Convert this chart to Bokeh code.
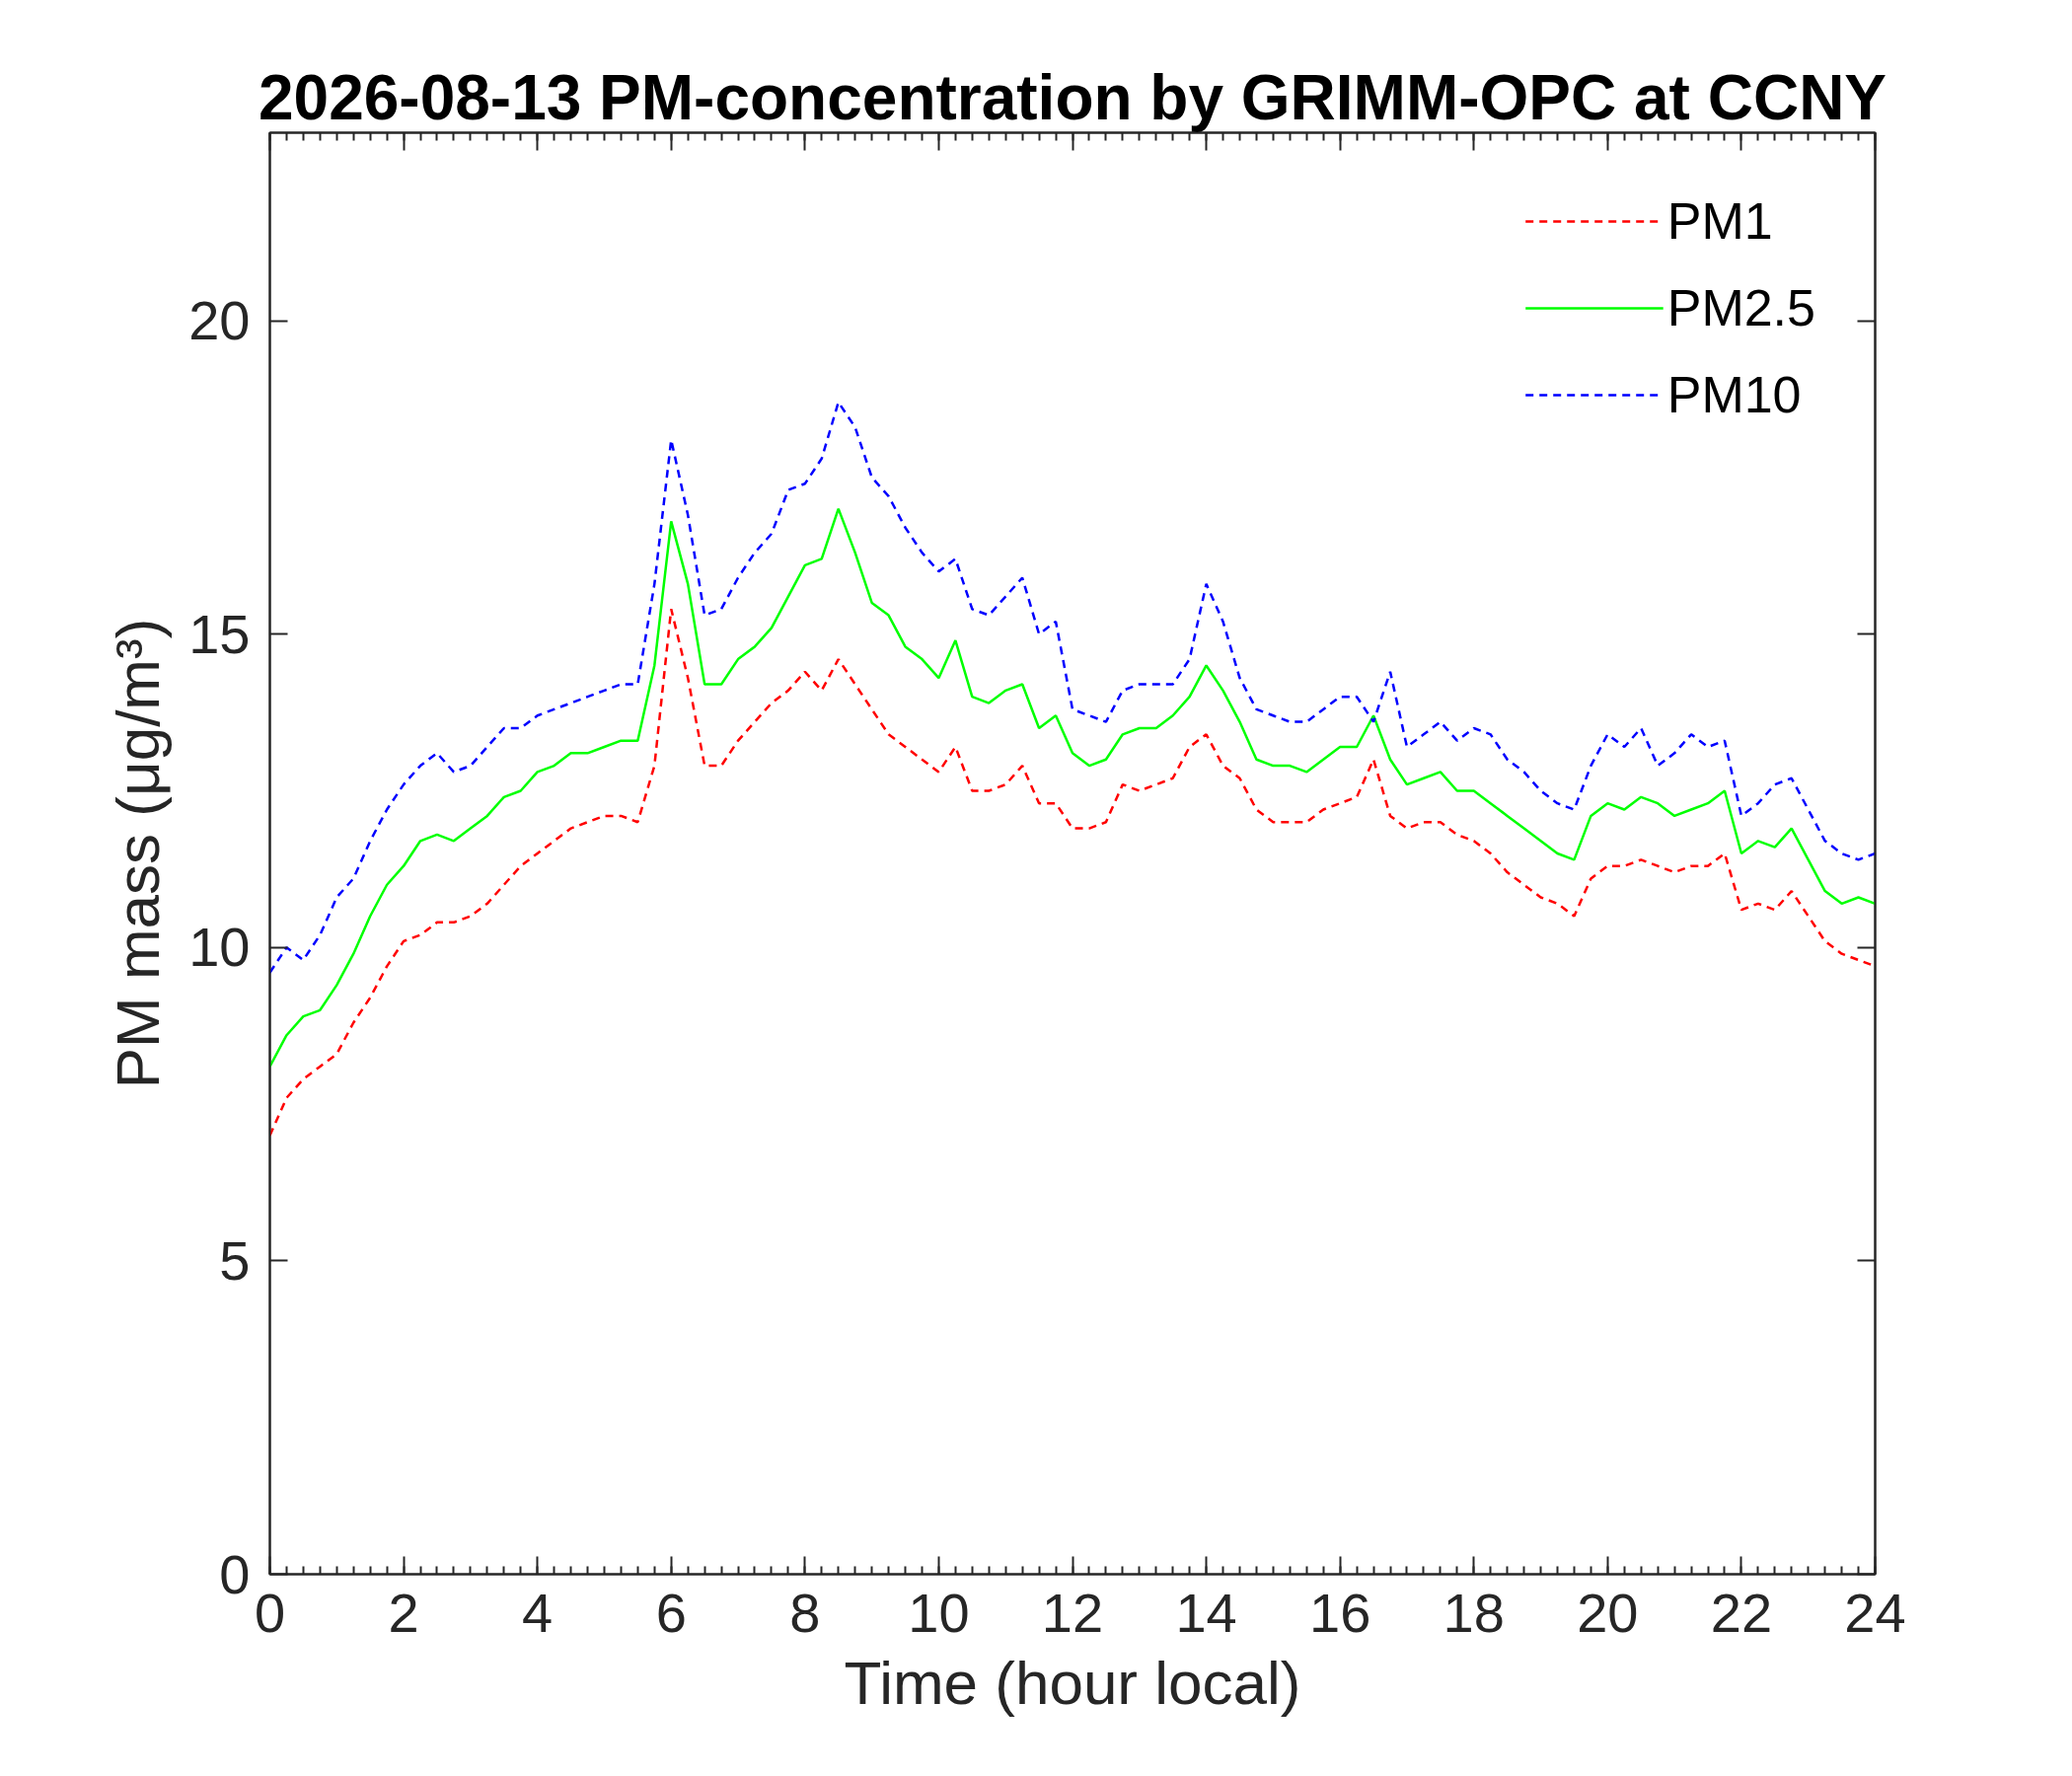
from bokeh.plotting import figure
from bokeh.models import LinearAxis, Range1d, FixedTicker, Legend, LegendItem
from bokeh.embed import file_html
from bokeh.resources import INLINE

hours = [i * 0.25 for i in range(97)]
pm1 = [7.0,7.6,7.9,8.1,8.3,8.8,9.2,9.7,10.1,10.2,10.4,10.4,10.5,10.7,11.0,11.3,11.5,11.7,11.9,12.0,12.1,12.1,12.0,12.9,
       15.4,14.3,12.9,12.9,13.3,13.6,13.9,14.1,14.4,14.1,14.6,14.2,13.8,13.4,13.2,13.0,12.8,13.2,12.5,12.5,12.6,12.9,12.3,12.3,
       11.9,11.9,12.0,12.6,12.5,12.6,12.7,13.2,13.4,12.9,12.7,12.2,12.0,12.0,12.0,12.2,12.3,12.4,13.0,12.1,11.9,12.0,12.0,11.8,
       11.7,11.5,11.2,11.0,10.8,10.7,10.5,11.1,11.3,11.3,11.4,11.3,11.2,11.3,11.3,11.5,10.6,10.7,10.6,10.9,10.5,10.1,9.9,9.8,9.7]
pm25 = [8.1,8.6,8.9,9.0,9.4,9.9,10.5,11.0,11.3,11.7,11.8,11.7,11.9,12.1,12.4,12.5,12.8,12.9,13.1,13.1,13.2,13.3,13.3,14.5,
        16.8,15.8,14.2,14.2,14.6,14.8,15.1,15.6,16.1,16.2,17.0,16.3,15.5,15.3,14.8,14.6,14.3,14.9,14.0,13.9,14.1,14.2,13.5,13.7,
        13.1,12.9,13.0,13.4,13.5,13.5,13.7,14.0,14.5,14.1,13.6,13.0,12.9,12.9,12.8,13.0,13.2,13.2,13.7,13.0,12.6,12.7,12.8,12.5,
        12.5,12.3,12.1,11.9,11.7,11.5,11.4,12.1,12.3,12.2,12.4,12.3,12.1,12.2,12.3,12.5,11.5,11.7,11.6,11.9,11.4,10.9,10.7,10.8,10.7]
pm10 = [9.6,10.0,9.8,10.2,10.8,11.1,11.7,12.2,12.6,12.9,13.1,12.8,12.9,13.2,13.5,13.5,13.7,13.8,13.9,14.0,14.1,14.2,14.2,15.8,
        18.1,16.9,15.3,15.4,15.9,16.3,16.6,17.3,17.4,17.8,18.7,18.3,17.5,17.2,16.7,16.3,16.0,16.2,15.4,15.3,15.6,15.9,15.0,15.2,
        13.8,13.7,13.6,14.1,14.2,14.2,14.2,14.6,15.8,15.2,14.3,13.8,13.7,13.6,13.6,13.8,14.0,14.0,13.6,14.4,13.2,13.4,13.6,13.3,
        13.5,13.4,13.0,12.8,12.5,12.3,12.2,12.9,13.4,13.2,13.5,12.9,13.1,13.4,13.2,13.3,12.1,12.3,12.6,12.7,12.2,11.7,11.5,11.4,11.5]
x_ticks = list(range(0, 25, 2))
y_ticks = [0, 5, 10, 15, 20]

FONT = "Arial"
p = figure(frame_width=1627, frame_height=1461, width=2084, height=1784,
           x_range=Range1d(0, 24), y_range=Range1d(0, 23),
           output_backend="svg", toolbar_location=None,
           min_border_left=273, min_border_right=184, min_border_top=134, min_border_bottom=189)
p.grid.visible = False
p.outline_line_color = "#262626"
p.outline_line_width = 2
p.background_fill_color = "white"

p.title.text = "2026-08-13 PM-concentration by GRIMM-OPC at CCNY"
p.title.text_font = FONT
p.title.text_font_size = "64px"
p.title.text_font_style = "bold"
p.title.text_color = "#000000"
p.title.align = "center"
p.title.standoff = 0

minor_x = [i * 0.25 for i in range(97)]

def style(ax, ticks, labels=True, minor=False):
    ax.major_tick_in = 18
    ax.major_tick_out = 0
    ax.minor_tick_in = 8 if minor else 0
    ax.minor_tick_out = 0
    ax.axis_line_color = "#262626"
    ax.axis_line_width = 2
    ax.major_tick_line_color = "#262626"
    ax.minor_tick_line_color = "#262626"
    ax.major_tick_line_width = 2
    ax.minor_tick_line_width = 2
    ax.major_label_text_font = FONT
    ax.major_label_text_font_size = "56px"
    ax.major_label_standoff = 20
    ax.major_label_text_color = "#262626"
    if not labels:
        ax.major_label_overrides = {t: "" for t in ticks}
    ax.axis_label_text_font = FONT
    ax.axis_label_text_font_size = "62px"
    ax.axis_label_text_font_style = "normal"
    ax.axis_label_text_color = "#262626"
    ax.axis_label_standoff = 14

p.xaxis.ticker = FixedTicker(ticks=x_ticks, minor_ticks=minor_x)
p.yaxis.ticker = FixedTicker(ticks=y_ticks)
style(p.xaxis[0], x_ticks, minor=True)
style(p.yaxis[0], y_ticks)
p.xaxis.axis_label = "Time (hour local)"
p.yaxis.axis_label = "PM mass (μg/m³)"

top = LinearAxis(ticker=FixedTicker(ticks=x_ticks, minor_ticks=minor_x))
style(top, x_ticks, labels=False, minor=True)
top.major_label_standoff = 0
p.add_layout(top, "above")
right = LinearAxis(ticker=FixedTicker(ticks=y_ticks))
style(right, y_ticks, labels=False)
p.add_layout(right, "right")

r1 = p.line(hours, pm1, line_color="#FF0000", line_width=2.5, line_dash="8 6")
r2 = p.line(hours, pm25, line_color="#00FF00", line_width=2.5)
r3 = p.line(hours, pm10, line_color="#0000FF", line_width=2.5, line_dash="8 6")

leg = Legend(items=[LegendItem(label="PM1", renderers=[r1]),
                    LegendItem(label="PM2.5", renderers=[r2]),
                    LegendItem(label="PM10", renderers=[r3])],
             location="top_right", border_line_alpha=0, background_fill_alpha=0,
             label_text_font=FONT, label_text_font_size="52px", label_text_color="#000000",
             label_standoff=4,
             glyph_width=140, glyph_height=50, spacing=28, margin=50, padding=10)
p.add_layout(leg)

open("out.html", "w").write(file_html(p, INLINE))
